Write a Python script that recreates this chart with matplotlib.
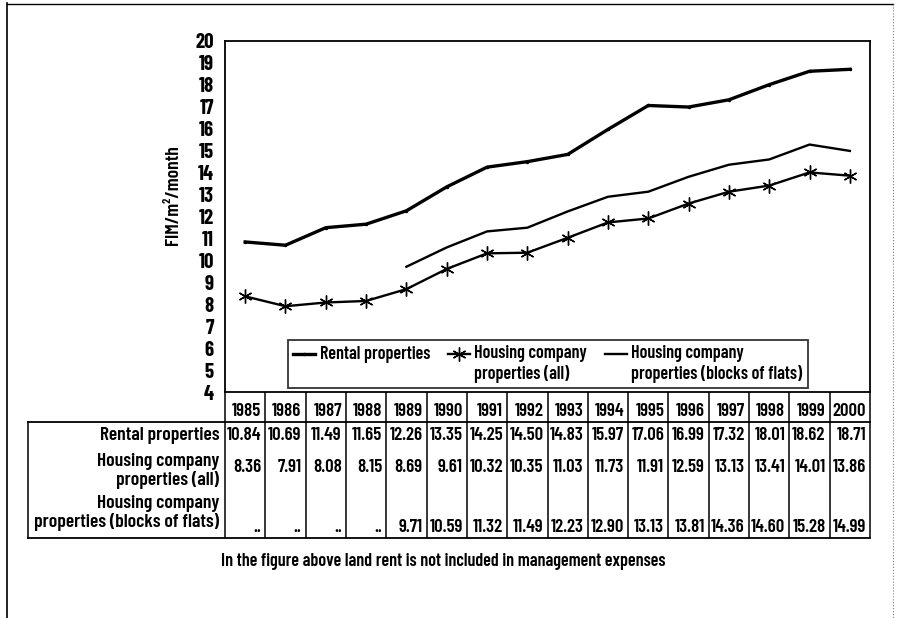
import numpy as np
import matplotlib
matplotlib.use("Agg")
import matplotlib.pyplot as plt
from matplotlib import transforms
from matplotlib.lines import Line2D

plt.rcParams['font.family'] = ['Barlow Condensed', 'DejaVu Sans']
plt.rcParams['font.weight'] = 600

# data
years = list(range(1985, 2001))
rental = [10.84, 10.69, 11.49, 11.65, 12.26, 13.35, 14.25, 14.50,
          14.83, 15.97, 17.06, 16.99, 17.32, 18.01, 18.62, 18.71]
housing_all = [8.36, 7.91, 8.08, 8.15, 8.69, 9.61, 10.32, 10.35,
               11.03, 11.73, 11.91, 12.59, 13.13, 13.41, 14.01, 13.86]
blocks = [None, None, None, None, 9.71, 10.59, 11.32, 11.49,
          12.23, 12.90, 13.13, 13.81, 14.36, 14.60, 15.28, 14.99]

row_names = ["Rental properties",
             "Housing company\nproperties (all)",
             "Housing company\nproperties (blocks of flats)"]
caption = "In the figure above land rent is not included in management expenses"

W, H = 897, 618
fig = plt.figure(figsize=(W / 100, H / 100), dpi=100)


def fx(px):
    return px / W


def fy(py):
    return 1 - py / H


# main plot area
ax = fig.add_axes([fx(225), fy(392), fx(870 - 225), fy(41) - fy(392)])
blk = np.array([np.nan if v is None else v for v in blocks], dtype=float)
ax.plot(years, rental, color="black", lw=2.4, marker=".", ms=3,
        label="Rental properties\n")
ax.plot(years, housing_all, color="black", lw=1.7, marker=(6, 2, 0), ms=10,
        mew=1.0, label=row_names[1])
ax.plot(years, blk, color="black", lw=1.7, label=row_names[2])
ax.set_xlim(1984.5, 2000.5)
ax.set_ylim(4, 20)
ax.set_yticks(range(4, 21))
ax.set_xticks([])
ax.tick_params(axis="y", length=0, pad=8, labelsize=15)
for t in ax.get_yticklabels():
    t.set_fontweight("bold")
for s in ax.spines.values():
    s.set_linewidth(1.3)

leg = ax.legend(loc="lower left", bbox_to_anchor=(0.0977, 0.011), ncol=3,
                borderaxespad=0, fontsize=13, frameon=True, fancybox=False,
                edgecolor="black", handlelength=1.2, handletextpad=0.25,
                columnspacing=1.0, numpoints=1, borderpad=0.3,
                labelspacing=0.1)
leg.get_frame().set_linewidth(1.3)
for h in leg.legend_handles:
    h.set_ydata(np.asarray(h.get_ydata()) + 7.2)

fig.text(fx(173), fy(195), "FIM/m²/month", rotation=90, ha="center",
         va="center", fontsize=14)

# table below the plot, sharing the year scale
tab = fig.add_axes([fx(225), fy(538), fx(870 - 225), fy(392) - fy(538)],
                   sharex=ax)
tab.set_ylim(146, 0)
tab.axis("off")
bl = transforms.blended_transform_factory(tab.transAxes, tab.transData)
left = (28 - 225) / 645

tab.vlines(np.arange(1984.5, 2001), 0, 146, color="black", lw=1.1,
           clip_on=False)
for yy in (30, 146):
    tab.plot([left, 1], [yy, yy], color="black", lw=1.3, transform=bl,
             clip_on=False)
tab.plot([left, left], [30, 146], color="black", lw=1.1, transform=bl,
         clip_on=False)

dx = 0.4
fs = 13.5
for i, yr in enumerate(years):
    x = yr + dx
    tab.text(x, 20, str(yr), ha="right", va="center", fontsize=fs)
    tab.text(x, 44, f"{rental[i]:.2f}", ha="right", va="center", fontsize=fs)
    tab.text(x, 75, f"{housing_all[i]:.2f}", ha="right", va="center",
             fontsize=fs)
    txt = ".." if blocks[i] is None else f"{blocks[i]:.2f}"
    tab.text(x, 136, txt, ha="right", va="center", fontsize=fs)

for name, yy in zip(row_names, (44, 79, 121)):
    tab.text(-0.009, yy, name, ha="right", va="center", ma="right",
             fontsize=14, transform=bl, linespacing=1.05)

fig.text(fx(443), fy(562), caption, ha="center", va="center", fontsize=13)

# page frame of the scan
fig.add_artist(Line2D([fx(7), fx(7)], [fy(3), 0], color="black", lw=1.2))
fig.add_artist(Line2D([fx(7), fx(893)], [fy(4), fy(4)], color="black", lw=1.0))
fig.add_artist(Line2D([fx(893), fx(893)], [fy(4), 0], color="gray", lw=0.8,
                      ls=":"))

fig.savefig("out.png", dpi=100)
